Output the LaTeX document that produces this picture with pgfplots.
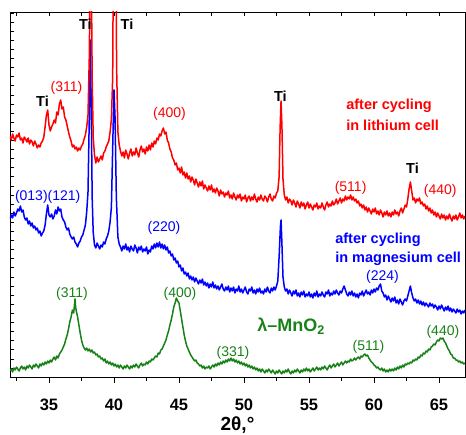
\documentclass[border=0pt]{standalone}
\usepackage{pgfplots}
\pgfplotsset{compat=1.18}
\usepackage{fontspec}
\setmainfont{Liberation Sans}

\definecolor{xred}{RGB}{255,0,0}
\definecolor{xblue}{RGB}{0,0,255}
\definecolor{xgreen}{RGB}{24,130,24}

\newcommand{\lbl}{\fontsize{14}{16}\selectfont}
\newcommand{\blbl}{\bfseries\fontsize{14.5}{17}\selectfont}

\begin{document}
\begin{tikzpicture}
  % frame with inner ticks (top and left)
  \begin{axis}[
      at={(0,0)}, anchor=south west,
      scale only axis, width=455pt, height=365pt,
      xmin=32, xmax=67, ymin=0, ymax=365,
      xtick={35,40,...,65}, minor xtick={32.5,37.5,...,67},
      xtick pos=top, xticklabels={},
      ytick={0,9.1,...,365}, yticklabels={}, ytick pos=left,
      tick align=inside,
      major tick length=4pt, minor tick length=4pt,
      axis line style={black, line width=0.8pt},
      tick style={black, line width=0.6pt},
    ]
  \end{axis}
  % data
  \begin{axis}[
      at={(0,0)}, anchor=south west,
      scale only axis, width=455pt, height=365pt,
      xmin=32, xmax=67, ymin=0, ymax=365,
      xtick={35,40,...,65}, minor xtick={32.5,37.5,...,67},
      xtick pos=bottom, ytick=\empty,
      tick align=outside,
      major tick length=6pt, minor tick length=4pt,
      axis line style={black, line width=0.8pt},
      tick style={black, line width=0.6pt},
      /pgf/number format/assume math mode=true,
      xticklabel style={font=\bfseries\fontsize{16.5}{18}\selectfont, anchor=base, yshift=-27pt},
      xlabel={2θ,°},
      xlabel style={font=\bfseries\fontsize{19}{21}\selectfont, anchor=base,
        at={(axis description cs:0.5,0)}, yshift=-53pt},
      every axis plot/.append style={line width=1.5pt, line join=round},
    ]
    % lambda-MnO2
    \addplot[xgreen] coordinates {
      (32.0,6)(32.1,8)(32.2,5)(32.3,9)(32.4,7)(32.5,10)(32.6,8)(32.7,6)(32.8,9)(32.9,11)
      (33.0,8)(33.1,10)(33.2,7)(33.3,11)(33.4,9)(33.5,12)(33.6,10)(33.7,8)(33.8,12)(33.9,10)
      (34.0,13)(34.1,11)(34.2,9)(34.3,13)(34.4,11)(34.5,14)(34.6,12)(34.7,15)(34.8,13)(34.9,16)
      (35.0,14)(35.1,17)(35.2,15)(35.3,18)(35.4,20)(35.5,17)(35.6,21)(35.7,19)(35.8,23)(35.9,25)
      (36.0,27)(36.1,30)(36.2,33)(36.3,38)(36.4,42)(36.5,48)(36.6,55)(36.7,60)(36.8,67)(36.9,64)
      (37.0,78)(37.05,70)(37.1,66)(37.2,60)(37.3,52)(37.4,44)(37.5,37)(37.6,32)(37.7,29)(37.8,27)
      (37.9,29)(38.0,26)(38.1,28)(38.2,25)(38.3,27)(38.4,24)(38.5,25)(38.6,22)(38.7,23)(38.8,20)
      (38.9,21)(39.0,18)(39.1,19)(39.2,16)(39.3,18)(39.4,14)(39.5,16)(39.6,13)(39.7,15)(39.8,12)
      (39.9,14)(40.0,11)(40.1,13)(40.2,10)(40.3,12)(40.4,9)(40.5,12)(40.6,10)(40.7,8)(40.8,11)
      (40.9,9)(41.0,12)(41.1,10)(41.2,8)(41.3,11)(41.4,9)(41.5,12)(41.6,10)(41.7,13)(41.8,11)
      (41.9,9)(42.0,12)(42.1,14)(42.2,11)(42.3,13)(42.4,12)(42.5,15)(42.6,13)(42.7,16)(42.8,15)
      (42.9,18)(43.0,17)(43.1,19)(43.2,21)(43.3,20)(43.4,24)(43.5,23)(43.6,27)(43.7,28)(43.8,31)
      (43.9,34)(44.0,37)(44.1,42)(44.2,46)(44.3,52)(44.4,57)(44.5,63)(44.6,70)(44.7,74)(44.8,79)
      (44.9,76)(45.0,74)(45.1,66)(45.2,58)(45.3,50)(45.4,42)(45.5,36)(45.6,31)(45.7,28)(45.8,25)
      (45.9,22)(46.0,20)(46.1,18)(46.2,16)(46.3,17)(46.4,14)(46.5,13)(46.6,11)(46.7,12)(46.8,9)
      (46.9,11)(47.0,8)(47.1,10)(47.2,9)(47.3,11)(47.4,8)(47.5,10)(47.6,12)(47.7,10)(47.8,13)
      (47.9,11)(48.0,14)(48.1,12)(48.2,15)(48.3,13)(48.4,16)(48.5,14)(48.6,17)(48.7,15)(48.8,18)
      (48.9,16)(49.0,19)(49.1,16)(49.2,18)(49.3,15)(49.4,17)(49.5,14)(49.6,16)(49.7,13)(49.8,15)
      (49.9,12)(50.0,14)(50.1,11)(50.2,13)(50.3,10)(50.4,12)(50.5,9)(50.6,11)(50.7,8)(50.8,10)
      (50.9,7)(51.0,9)(51.1,6)(51.2,8)(51.3,5)(51.4,8)(51.5,6)(51.6,4)(51.7,7)(51.8,5)
      (51.9,8)(52.0,6)(52.1,4)(52.2,7)(52.3,5)(52.4,3)(52.5,6)(52.6,4)(52.7,7)(52.8,5)
      (52.9,3)(53.0,6)(53.1,4)(53.2,7)(53.3,5)(53.4,8)(53.5,5)(53.6,3)(53.7,6)(53.8,4)
      (53.9,7)(54.0,5)(54.1,8)(54.2,6)(54.3,4)(54.4,7)(54.5,5)(54.6,8)(54.7,6)(54.8,9)
      (54.9,6)(55.0,8)(55.1,5)(55.2,7)(55.3,9)(55.4,6)(55.5,8)(55.6,10)(55.7,7)(55.8,9)
      (55.9,7)(56.0,10)(56.1,8)(56.2,11)(56.3,9)(56.4,7)(56.5,10)(56.6,12)(56.7,9)(56.8,11)
      (56.9,13)(57.0,10)(57.1,12)(57.2,14)(57.3,11)(57.4,13)(57.5,15)(57.6,12)(57.7,14)(57.8,16)
      (57.9,14)(58.0,16)(58.1,15)(58.2,18)(58.3,16)(58.4,17)(58.5,19)(58.6,17)(58.7,19)(58.8,20)
      (58.9,18)(59.0,21)(59.1,20)(59.2,22)(59.3,23)(59.4,21)(59.5,22)(59.6,19)(59.7,17)(59.8,15)
      (59.9,14)(60.0,12)(60.1,11)(60.2,9)(60.3,10)(60.4,8)(60.5,7)(60.6,9)(60.7,6)(60.8,8)
      (60.9,5)(61.0,7)(61.1,5)(61.2,8)(61.3,6)(61.4,8)(61.5,6)(61.6,9)(61.7,7)(61.8,10)
      (61.9,8)(62.0,11)(62.1,9)(62.2,12)(62.3,10)(62.4,13)(62.5,12)(62.6,14)(62.7,13)(62.8,15)
      (62.9,14)(63.0,17)(63.1,16)(63.2,18)(63.3,17)(63.4,20)(63.5,19)(63.6,22)(63.7,21)(63.8,24)
      (63.9,23)(64.0,26)(64.1,25)(64.2,28)(64.3,27)(64.4,30)(64.5,31)(64.6,33)(64.7,32)(64.8,35)
      (64.9,37)(65.0,36)(65.1,39)(65.2,38)(65.3,39)(65.4,36)(65.5,34)(65.6,31)(65.7,28)(65.8,26)
      (65.9,23)(66.0,22)(66.1,19)(66.2,19)(66.3,17)(66.4,17)(66.5,15)(66.6,16)(66.7,14)(66.8,15)
      (66.9,13)(67.0,14)
    };
    % after cycling in magnesium cell
    \addplot[xblue] coordinates {
      (32.0,158)(32.1,162)(32.2,159)(32.3,165)(32.4,161)(32.5,164)(32.6,168)(32.7,166)(32.8,171)(32.9,165)
      (33.0,167)(33.1,160)(33.2,157)(33.3,159)(33.4,153)(33.5,156)(33.6,151)(33.7,154)(33.8,149)(33.9,151)
      (34.0,147)(34.1,149)(34.2,144)(34.3,146)(34.4,141)(34.5,144)(34.6,146)(34.7,152)(34.8,163)(34.9,172)
      (35.0,162)(35.1,160)(35.2,163)(35.3,158)(35.4,161)(35.5,167)(35.6,163)(35.7,170)(35.8,166)(35.9,168)
      (36.0,160)(36.1,157)(36.2,155)(36.3,150)(36.4,147)(36.5,149)(36.6,143)(36.7,140)(36.8,138)(36.9,140)
      (37.0,135)(37.1,133)(37.2,130)(37.3,134)(37.4,136)(37.5,140)(37.6,142)(37.7,147)(37.8,152)(37.9,165)
      (38.0,185)(38.1,260)(38.18,337)(38.26,260)(38.32,180)(38.4,145)(38.5,132)(38.6,129)(38.7,134)(38.8,131)
      (38.9,128)(39.0,132)(39.1,130)(39.2,135)(39.3,133)(39.4,138)(39.5,141)(39.6,146)(39.7,155)(39.8,170)
      (39.9,230)(40.0,287)(40.08,260)(40.18,180)(40.3,140)(40.4,133)(40.5,130)(40.6,126)(40.7,131)(40.8,128)
      (40.9,133)(41.0,127)(41.1,130)(41.2,125)(41.3,131)(41.4,128)(41.5,126)(41.6,132)(41.7,129)(41.8,124)
      (41.9,130)(42.0,127)(42.1,131)(42.2,125)(42.3,128)(42.4,126)(42.5,130)(42.6,123)(42.7,127)(42.8,125)
      (42.9,131)(43.0,128)(43.1,133)(43.2,129)(43.3,134)(43.4,130)(43.5,135)(43.6,129)(43.7,133)(43.8,128)
      (43.9,132)(44.0,127)(44.1,130)(44.2,124)(44.3,126)(44.4,121)(44.5,123)(44.6,117)(44.7,119)(44.8,114)
      (44.9,116)(45.0,110)(45.1,112)(45.2,106)(45.3,109)(45.4,103)(45.5,105)(45.6,101)(45.7,104)(45.8,98)
      (45.9,101)(46.0,97)(46.1,100)(46.2,95)(46.3,99)(46.4,96)(46.5,93)(46.6,97)(46.7,94)(46.8,98)
      (46.9,92)(47.0,95)(47.1,91)(47.2,94)(47.3,89)(47.4,93)(47.5,90)(47.6,95)(47.7,89)(47.8,92)
      (47.9,88)(48.0,91)(48.1,87)(48.2,90)(48.3,93)(48.4,88)(48.5,86)(48.6,90)(48.7,87)(48.8,91)
      (48.9,85)(49.0,89)(49.1,86)(49.2,90)(49.3,84)(49.4,88)(49.5,86)(49.6,91)(49.7,85)(49.8,88)
      (49.9,84)(50.0,87)(50.1,90)(50.2,85)(50.3,83)(50.4,88)(50.5,86)(50.6,90)(50.7,84)(50.8,87)
      (50.9,83)(51.0,88)(51.1,85)(51.2,89)(51.3,84)(51.4,86)(51.5,83)(51.6,88)(51.7,85)(51.8,90)
      (51.9,86)(52.0,84)(52.1,89)(52.2,86)(52.3,90)(52.4,87)(52.5,91)(52.6,96)(52.7,120)(52.8,150)
      (52.85,157)(52.9,140)(53.0,100)(53.1,90)(53.2,86)(53.3,88)(53.4,83)(53.5,87)(53.6,84)(53.7,81)
      (53.8,86)(53.9,83)(54.0,87)(54.1,81)(54.2,84)(54.3,80)(54.4,85)(54.5,82)(54.6,86)(54.7,80)
      (54.8,83)(54.9,81)(55.0,85)(55.1,80)(55.2,83)(55.3,79)(55.4,84)(55.5,81)(55.6,86)(55.7,80)
      (55.8,83)(55.9,81)(56.0,85)(56.1,82)(56.2,80)(56.3,85)(56.4,83)(56.5,87)(56.6,81)(56.7,84)
      (56.8,82)(56.9,86)(57.0,83)(57.1,87)(57.2,84)(57.3,82)(57.4,86)(57.5,84)(57.6,88)(57.7,91)
      (57.8,87)(57.9,83)(58.0,81)(58.1,85)(58.2,82)(58.3,86)(58.4,81)(58.5,84)(58.6,80)(58.7,83)
      (58.8,79)(58.9,84)(59.0,82)(59.1,86)(59.2,81)(59.3,84)(59.4,87)(59.5,83)(59.6,85)(59.7,82)
      (59.8,87)(59.9,84)(60.0,88)(60.1,85)(60.2,89)(60.3,87)(60.4,91)(60.5,93)(60.6,86)(60.7,84)
      (60.8,80)(60.9,82)(61.0,77)(61.1,81)(61.2,78)(61.3,75)(61.4,79)(61.5,76)(61.6,80)(61.7,74)
      (61.8,77)(61.9,73)(62.0,78)(62.1,75)(62.2,72)(62.3,76)(62.4,78)(62.5,76)(62.6,81)(62.7,86)
      (62.8,91)(62.9,84)(63.0,79)(63.1,76)(63.2,78)(63.3,74)(63.4,77)(63.5,73)(63.6,76)(63.7,72)
      (63.8,75)(63.9,71)(64.0,74)(64.1,72)(64.2,70)(64.3,74)(64.4,71)(64.5,73)(64.6,69)(64.7,72)
      (64.8,70)(64.9,67)(65.0,71)(65.1,68)(65.2,72)(65.3,69)(65.4,66)(65.5,70)(65.6,67)(65.7,71)
      (65.8,66)(65.9,69)(66.0,65)(66.1,68)(66.2,66)(66.3,64)(66.4,68)(66.5,65)(66.6,67)(66.7,63)
      (66.8,66)(66.9,64)(67.0,67)
    };
    % after cycling in lithium cell
    \addplot[xred] coordinates {
      (32.0,241)(32.1,237)(32.2,243)(32.3,239)(32.4,236)(32.5,242)(32.6,240)(32.7,244)(32.8,237)(32.9,239)
      (33.0,234)(33.1,240)(33.2,238)(33.3,235)(33.4,239)(33.5,233)(33.6,237)(33.7,235)(33.8,231)(33.9,236)
      (34.0,233)(34.1,229)(34.2,232)(34.3,230)(34.4,234)(34.5,236)(34.6,240)(34.7,250)(34.8,262)(34.9,267)
      (35.0,252)(35.1,246)(35.2,250)(35.3,253)(35.4,257)(35.5,254)(35.6,265)(35.7,262)(35.8,273)(35.9,277)
      (36.0,268)(36.1,270)(36.2,260)(36.3,257)(36.4,251)(36.5,245)(36.6,240)(36.7,236)(36.8,230)(36.9,232)
      (37.0,228)(37.1,230)(37.2,226)(37.3,229)(37.4,227)(37.5,231)(37.6,233)(37.7,238)(37.8,242)(37.9,250)
      (38.0,262)(38.1,320)(38.17,420)(38.25,420)(38.32,300)(38.4,240)(38.5,222)(38.6,214)(38.7,220)(38.8,215)
      (38.9,218)(39.0,221)(39.1,217)(39.2,224)(39.3,226)(39.4,230)(39.5,233)(39.6,236)(39.7,245)(39.8,258)
      (39.9,300)(39.95,420)(40.15,420)(40.2,310)(40.3,245)(40.4,232)(40.5,226)(40.6,221)(40.7,225)(40.8,219)
      (40.9,227)(41.0,223)(41.1,218)(41.2,224)(41.3,228)(41.4,221)(41.5,225)(41.6,222)(41.7,229)(41.8,224)
      (41.9,220)(42.0,227)(42.1,231)(42.2,225)(42.3,228)(42.4,223)(42.5,230)(42.6,226)(42.7,232)(42.8,227)
      (42.9,234)(43.0,230)(43.1,236)(43.2,233)(43.3,239)(43.4,237)(43.5,243)(43.6,241)(43.7,246)(43.8,249)
      (43.9,243)(44.0,245)(44.1,237)(44.2,234)(44.3,228)(44.4,225)(44.5,219)(44.6,217)(44.7,212)(44.8,214)
      (44.9,207)(45.0,209)(45.1,204)(45.2,210)(45.3,202)(45.4,205)(45.5,199)(45.6,204)(45.7,198)(45.8,201)
      (45.9,195)(46.0,200)(46.1,197)(46.2,192)(46.3,198)(46.4,194)(46.5,190)(46.6,195)(46.7,191)(46.8,196)
      (46.9,188)(47.0,192)(47.1,189)(47.2,186)(47.3,191)(47.4,187)(47.5,192)(47.6,185)(47.7,188)(47.8,184)
      (47.9,189)(48.0,186)(48.1,181)(48.2,187)(48.3,183)(48.4,185)(48.5,180)(48.6,184)(48.7,182)(48.8,186)
      (48.9,179)(49.0,182)(49.1,178)(49.2,184)(49.3,180)(49.4,177)(49.5,182)(49.6,179)(49.7,183)(49.8,176)
      (49.9,180)(50.0,178)(50.1,182)(50.2,175)(50.3,179)(50.4,181)(50.5,176)(50.6,180)(50.7,177)(50.8,183)
      (50.9,178)(51.0,175)(51.1,180)(51.2,177)(51.3,182)(51.4,178)(51.5,176)(51.6,181)(51.7,179)(51.8,175)
      (51.9,180)(52.0,183)(52.1,178)(52.2,176)(52.3,181)(52.4,179)(52.5,184)(52.6,186)(52.7,200)(52.78,250)
      (52.85,276)(52.92,250)(53.0,198)(53.1,182)(53.2,177)(53.3,180)(53.4,174)(53.5,178)(53.6,176)(53.7,172)
      (53.8,177)(53.9,174)(54.0,170)(54.1,176)(54.2,173)(54.3,169)(54.4,175)(54.5,171)(54.6,174)(54.7,168)
      (54.8,172)(54.9,175)(55.0,169)(55.1,173)(55.2,170)(55.3,167)(55.4,172)(55.5,170)(55.6,174)(55.7,168)
      (55.8,171)(55.9,169)(56.0,174)(56.1,170)(56.2,167)(56.3,172)(56.4,175)(56.5,170)(56.6,173)(56.7,171)
      (56.8,176)(56.9,172)(57.0,174)(57.1,178)(57.2,173)(57.3,176)(57.4,179)(57.5,174)(57.6,178)(57.7,176)
      (57.8,181)(57.9,177)(58.0,180)(58.1,178)(58.2,182)(58.3,177)(58.4,180)(58.5,176)(58.6,178)(58.7,174)
      (58.8,176)(58.9,171)(59.0,173)(59.1,169)(59.2,172)(59.3,167)(59.4,170)(59.5,165)(59.6,169)(59.7,166)
      (59.8,163)(59.9,168)(60.0,165)(60.1,169)(60.2,163)(60.3,166)(60.4,162)(60.5,167)(60.6,164)(60.7,160)
      (60.8,165)(60.9,162)(61.0,166)(61.1,161)(61.2,164)(61.3,160)(61.4,165)(61.5,162)(61.6,167)(61.7,163)
      (61.8,165)(61.9,161)(62.0,166)(62.1,169)(62.2,164)(62.3,168)(62.4,172)(62.5,170)(62.6,178)(62.7,188)
      (62.8,195)(62.9,186)(63.0,177)(63.1,179)(63.2,174)(63.3,178)(63.4,176)(63.5,179)(63.6,173)(63.7,175)
      (63.8,171)(63.9,173)(64.0,168)(64.1,171)(64.2,166)(64.3,169)(64.4,164)(64.5,167)(64.6,162)(64.7,165)
      (64.8,160)(64.9,164)(65.0,161)(65.1,158)(65.2,163)(65.3,159)(65.4,162)(65.5,157)(65.6,161)(65.7,158)
      (65.8,163)(65.9,159)(66.0,156)(66.1,161)(66.2,158)(66.3,162)(66.4,157)(66.5,160)(66.6,164)(66.7,159)
      (66.8,162)(66.9,158)(67.0,161)
    };

    % Ti labels
    \node[font=\blbl] at (axis cs:34.5,276) {Ti};
    \node[font=\blbl] at (axis cs:37.8,353) {Ti};
    \node[font=\blbl] at (axis cs:41.0,353) {Ti};
    \node[font=\blbl] at (axis cs:52.8,281) {Ti};
    \node[font=\blbl] at (axis cs:62.96,209) {Ti};
    % red reflections
    \node[font=\lbl, text=xred] at (axis cs:36.35,289) {(311)};
    \node[font=\lbl, text=xred] at (axis cs:44.27,263) {(400)};
    \node[font=\lbl, text=xred] at (axis cs:58.2,189) {(511)};
    \node[font=\lbl, text=xred] at (axis cs:65.1,186) {(440)};
    \node[font=\blbl, text=xred, anchor=west] at (axis cs:57.6,271) {after cycling};
    \node[font=\blbl, text=xred, anchor=west] at (axis cs:57.6,252) {in lithium cell};
    % blue reflections
    \node[font=\lbl, text=xblue] at (axis cs:34.9,180) {(013)(121)};
    \node[font=\lbl, text=xblue] at (axis cs:43.85,149) {(220)};
    \node[font=\lbl, text=xblue] at (axis cs:60.65,100) {(224)};
    \node[font=\blbl, text=xblue, anchor=west] at (axis cs:56.75,137) {after cycling};
    \node[font=\blbl, text=xblue, anchor=west] at (axis cs:56.75,118) {in magnesium cell};
    % green reflections
    \node[font=\lbl, text=xgreen] at (axis cs:36.77,83) {(311)};
    \node[font=\lbl, text=xgreen] at (axis cs:45.08,83) {(400)};
    \node[font=\lbl, text=xgreen] at (axis cs:49.15,24) {(331)};
    \node[font=\lbl, text=xgreen] at (axis cs:59.58,30) {(511)};
    \node[font=\lbl, text=xgreen] at (axis cs:65.3,45) {(440)};
    \node[font=\bfseries\fontsize{18}{20}\selectfont, text=xgreen, anchor=west] at (axis cs:50.75,51) {λ–MnO\textsubscript{2}};
  \end{axis}
  \pgfresetboundingbox
  \path[use as bounding box] (-10pt,-57pt) rectangle (456pt,377pt);
\end{tikzpicture}
\end{document}
